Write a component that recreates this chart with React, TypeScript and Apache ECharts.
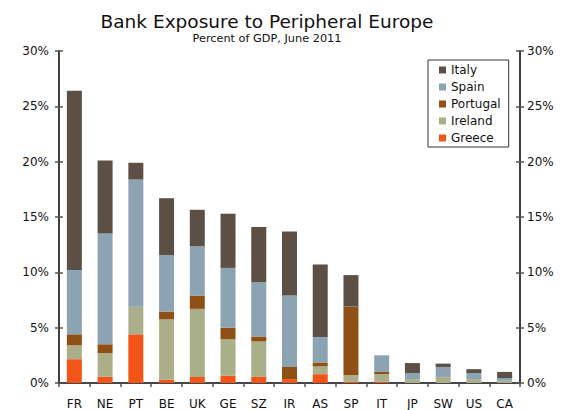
import React, { useEffect, useRef } from "react";
import * as echarts from "echarts";

const categories = ["FR", "NE", "PT", "BE", "UK", "GE", "SZ", "IR", "AS", "SP", "IT", "JP", "SW", "US", "CA"];
const greece = [2.15, 0.55, 4.4, 0.3, 0.55, 0.65, 0.55, 0.35, 0.8, 0.1, 0.1, 0, 0, 0, 0];
const ireland = [1.25, 2.15, 2.5, 5.45, 6.15, 3.3, 3.2, 0, 0.7, 0.6, 0.7, 0.35, 0.55, 0.35, 0.2];
const portugal = [1.0, 0.8, 0, 0.7, 1.2, 1.05, 0.45, 1.1, 0.35, 6.2, 0.2, 0, 0, 0, 0];
const spain = [5.8, 10.0, 11.5, 5.1, 4.45, 5.4, 4.9, 6.45, 2.3, 0, 1.5, 0.55, 0.9, 0.55, 0.25];
const italy = [16.2, 6.6, 1.5, 5.15, 3.3, 4.9, 5.0, 5.8, 6.55, 2.85, 0, 0.9, 0.3, 0.35, 0.55];
const yTicks = { min: 0, max: 30, interval: 5 };

const FONT = "DejaVu Sans, Verdana, sans-serif";

export default function App() {
  const ref = useRef<HTMLDivElement>(null);
  useEffect(() => {
    if (!ref.current) return;
    const chart = echarts.init(ref.current, undefined, { renderer: "svg" });
    const yBase = (pos: "left" | "right", labels: boolean, inside: boolean) => ({
      type: "value",
      position: pos,
      min: yTicks.min,
      max: yTicks.max,
      interval: yTicks.interval,
      splitLine: { show: false },
      axisLine: { show: true, lineStyle: { color: "#333", width: 1.5 } },
      axisTick: { show: true, inside, length: 4, lineStyle: { color: "#555", width: 1.5 } },
      axisLabel: {
        show: labels,
        formatter: "{value}%",
        color: "#111",
        fontFamily: FONT,
        fontSize: 12,
        margin: pos === "left" ? 10 : 7,
      },
    });
    const mk = (name: string, data: number[], color: string) => ({
      name,
      type: "bar",
      stack: "total",
      data,
      barWidth: 15,
      itemStyle: { color },
      xAxisIndex: 0,
      yAxisIndex: 0,
    });
    chart.setOption({
      animation: false,
      backgroundColor: "#fff",
      title: {
        text: "Bank Exposure to Peripheral Europe",
        subtext: "Percent of GDP, June 2011",
        left: 262,
        textAlign: "center",
        top: 7,
        itemGap: 2,
        textStyle: { fontFamily: FONT, fontSize: 18.5, fontWeight: "normal", color: "#111" },
        subtextStyle: { fontFamily: FONT, fontSize: 11.3, color: "#111" },
      },
      legend: {
        orient: "vertical",
        left: 428,
        top: 60,
        data: ["Italy", "Spain", "Portugal", "Ireland", "Greece"],
        icon: "rect",
        itemWidth: 7,
        itemHeight: 7,
        itemGap: 3,
        padding: [3, 8, 2, 11],
        borderColor: "#333",
        borderWidth: 1,
        textStyle: { fontFamily: FONT, fontSize: 12, color: "#111", lineHeight: 14 },
      },
      grid: { left: 59, right: 52, top: 51, bottom: 25 },
      xAxis: [
        {
          type: "category",
          position: "bottom",
          data: categories,
          axisLine: { show: true, lineStyle: { color: "#555", width: 1.5 } },
          axisTick: { show: true, length: 4, lineStyle: { color: "#555", width: 1.5 } },
          axisLabel: { fontFamily: FONT, fontSize: 12, color: "#111", margin: 15 },
        },
        {
          type: "category",
          position: "top",
          data: categories,
          axisLine: { show: true, lineStyle: { color: "#333", width: 1.5 } },
          axisTick: { show: false },
          axisLabel: { show: false },
        },
      ],
      yAxis: [
        yBase("left", true, false),
        yBase("left", false, true),
        yBase("right", true, false),
        yBase("right", false, true),
      ],
      series: [
        mk("Greece", greece, "#F35519"),
        mk("Ireland", ireland, "#AAAF8A"),
        mk("Portugal", portugal, "#8E5014"),
        mk("Spain", spain, "#8CA3B3"),
        mk("Italy", italy, "#5C5046"),
      ],
    });
    return () => chart.dispose();
  }, []);
  return <div ref={ref} style={{ width: 572, height: 410, position: "absolute", left: 0, top: 0 }} />;
}
